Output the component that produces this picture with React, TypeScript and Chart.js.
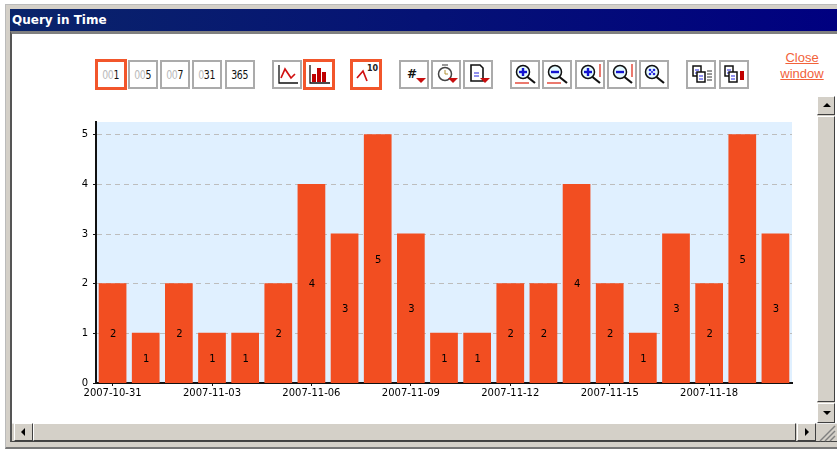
import React, { useEffect, useRef } from "react";
import { Chart, registerables } from "chart.js";

Chart.register(...registerables);

const dates = ["2007-10-31","2007-11-01","2007-11-02","2007-11-03","2007-11-04","2007-11-05","2007-11-06","2007-11-07","2007-11-08","2007-11-09","2007-11-10","2007-11-11","2007-11-12","2007-11-13","2007-11-14","2007-11-15","2007-11-16","2007-11-17","2007-11-18","2007-11-19","2007-11-20"];
const counts = [2,1,2,1,1,2,4,3,5,3,1,1,2,2,4,2,1,3,2,5,3];
const yTicks = [0,1,2,3,4,5];
const rangeButtons = [["00","1",95,true],["00","5",128,false],["00","7",160,false],["0","31",192,false],["","365",225,false]] as const;

const ORANGE = "#F24E21";
const FONT = "'DejaVu Sans', sans-serif";

const barLabels = {
  id: "barLabels",
  afterDatasetsDraw(chart: any) {
    const { ctx } = chart;
    const meta = chart.getDatasetMeta(0);
    ctx.save();
    ctx.fillStyle = "#000";
    ctx.font = `10px ${FONT}`;
    ctx.textAlign = "center";
    ctx.textBaseline = "middle";
    meta.data.forEach((bar: any, i: number) => {
      const base = chart.scales.y.getPixelForValue(0);
      ctx.fillText(String(counts[i]), bar.x + 0.5, (bar.y + base) / 2 + 1);
    });
    ctx.restore();
  },
};

const Btn = ({ x, active, children }: { x: number; active?: boolean; children?: React.ReactNode }) => (
  <div style={{
    position: "absolute", left: x, top: active ? 59 : 60, width: active ? 32 : 30, height: active ? 31 : 29,
    boxSizing: "border-box", border: active ? `3px solid #F2562B` : "2px solid #ababab", background: "#fff",
    display: "flex", alignItems: "center", justifyContent: "center",
  }}>{children}</div>
);

const Svg = ({ children }: { children: React.ReactNode }) => (
  <svg width="26" height="25" viewBox="0 0 26 25" style={{ display: "block", flex: "none" }}>{children}</svg>
);

const Mag = ({ sign, scale }: { sign: "+" | "-" | "x"; scale: "h" | "v" | "" }) => (
  <Svg>
    <circle cx="11" cy="10" r="6.5" fill="#e4f9ff" stroke="#111" strokeWidth="1.5" />
    <line x1="15.5" y1="15" x2="23" y2="21" stroke="#111" strokeWidth="2.2" />
    {sign === "x" ? (
      <g fill="#2222dd"><circle cx="9" cy="8" r="1.3"/><circle cx="13" cy="8" r="1.3"/><circle cx="11" cy="10" r="1.1"/><circle cx="9" cy="12" r="1.3"/><circle cx="13" cy="12" r="1.3"/></g>
    ) : (
      <g stroke="#1414d0" strokeWidth="2.4"><line x1="7" y1="10" x2="15" y2="10"/>{sign === "+" && <line x1="11" y1="6" x2="11" y2="14"/>}</g>
    )}
    {scale === "h" && <line x1="3" y1="21" x2="17" y2="21" stroke="#e03020" strokeWidth="1.3" />}
    {scale === "v" && <line x1="23" y1="2" x2="23" y2="15" stroke="#e03020" strokeWidth="1.3" />}
  </Svg>
);

const Doc = ({ x, y }: { x: number; y: number }) => (
  <g transform={`translate(${x} ${y})`}>
    <rect x="0" y="0" width="8" height="10" fill="#fff" stroke="#111" strokeWidth="1.5" />
    <line x1="2" y1="4" x2="6" y2="4" stroke="#2222dd" /><line x1="2" y1="7" x2="6" y2="7" stroke="#2222dd" />
  </g>
);

const Arrow = ({ x, y }: { x: number; y: number }) => <polygon points={`${x},${y} ${x + 10},${y} ${x + 5},${y + 5}`} fill="#c80e0e" />;

const ScrollBtn = ({ x, y, w, h, dir }: { x: number; y: number; w: number; h: number; dir: "u" | "d" | "l" | "r" }) => {
  const pts = { u: "5,8 13,8 9,4", d: "5,5 13,5 9,9", l: "8,4 8,12 4,8", r: "5,4 5,12 9,8" }[dir];
  return (
    <div style={{ position: "absolute", left: x, top: y, width: w, height: h, boxSizing: "border-box", background: "#D4D0C8", borderStyle: "solid", borderWidth: 1, borderColor: "#fff #404040 #404040 #fff" }}>
      <svg width={w - 2} height={h - 2} style={{ display: "block" }}><polygon points={pts} fill="#000" transform={dir === "u" || dir === "d" ? "translate(0 2)" : "translate(2 0)"} /></svg>
    </div>
  );
};

export default function App() {
  const ref = useRef<HTMLCanvasElement>(null);
  useEffect(() => {
    document.body.style.margin = "0";
    document.body.style.background = "#fff";
    const chart = new Chart(ref.current!, {
      type: "bar",
      data: { labels: dates, datasets: [{ data: counts, backgroundColor: ORANGE, barPercentage: 0.8, categoryPercentage: 1, inflateAmount: 0.6 }] },
      plugins: [
        barLabels,
        {
          id: "plotBg",
          beforeDraw(c: any) {
            const { ctx, chartArea: a } = c;
            ctx.save();
            ctx.fillStyle = "#E0F0FF";
            ctx.fillRect(a.left, a.top, a.right - a.left, a.bottom - a.top);
            ctx.restore();
          },
        },
      ],
      options: {
        animation: false,
        responsive: false,
        events: [],
        layout: { autoPadding: false, padding: { left: 0, right: 8, top: 7, bottom: 0 } },
        plugins: { legend: { display: false }, tooltip: { enabled: false }, title: { display: false } },
        scales: {
          x: {
            afterFit: (s: any) => { s.height = 22; s.paddingLeft = 0; s.paddingRight = 0; },
            grid: { display: true, offset: false, drawOnChartArea: false, drawTicks: true, tickLength: 3, tickColor: "#111", color: "#111" },
            border: { color: "#111", width: 2 },
            ticks: { autoSkip: true, maxTicksLimit: 7, maxRotation: 0, minRotation: 0, color: "#000", padding: 1, font: { size: 10, family: FONT } },
          },
          y: {
            min: 0,
            max: 5.26,
            afterFit: (s: any) => { s.width = 36; s.paddingTop = 0; s.paddingBottom = 0; },
            afterBuildTicks: (s: any) => { s.ticks = yTicks.map((value) => ({ value })); },
            grid: { color: "#bdbdbd", drawTicks: true, tickLength: 3, tickColor: "#111", lineWidth: 1 },
            border: { color: "#111", width: 2, dash: [5, 4] },
            ticks: { color: "#000", padding: 5, font: { size: 10, family: FONT }, callback: (v: any) => String(v) },
          },
        },
      },
    } as any);
    return () => chart.destroy();
  }, []);

  return (
    <div style={{ position: "relative", width: 837, height: 449, overflow: "hidden", background: "#fff", fontFamily: FONT }}>
      {/* window frame */}
      <div style={{ position: "absolute", left: 5, top: 4, width: 832, height: 445, boxSizing: "border-box", background: "#D4D0C8", borderTop: "1px solid #bbb", borderLeft: "1px solid #bbb", borderBottom: "2px solid #777" }} />
      <div style={{ position: "absolute", left: 10, top: 9, width: 827, height: 22, background: "linear-gradient(90deg,#0A246A 0%,#000080 100%)", color: "#fff", fontWeight: 700, fontSize: 12, lineHeight: "23px", paddingLeft: 2, boxSizing: "border-box", whiteSpace: "nowrap" }}>Query in Time</div>
      <div style={{ position: "absolute", left: 10, top: 31, width: 827, height: 411, boxSizing: "border-box", background: "#fff", borderTop: "3px solid #808080", borderLeft: "2px solid #555", borderBottom: "1px solid #444" }} />

      {rangeButtons.map(([dim, strong, x, active]) => (
        <Btn key={x} x={x} active={active}>
          <span style={{ fontFamily: "'DejaVu Sans Condensed','DejaVu Sans',sans-serif", fontSize: 13, display: "inline-block", transform: "scaleX(0.8)", whiteSpace: "nowrap", letterSpacing: -0.3 }}>
            <span style={{ color: "#b9b9b9" }}>{dim}</span><span style={{ color: "#111" }}>{strong}</span>
          </span>
        </Btn>
      ))}

      <Btn x={272}><Svg><path d="M5 3V21H24" fill="none" stroke="#111" strokeWidth="1.3"/><path d="M7 16L11 7L17 16L21 12" fill="none" stroke="#d01010" strokeWidth="1.7"/></Svg></Btn>
      <Btn x={303} active><Svg><path d="M4 3V21H24" fill="none" stroke="#111" strokeWidth="1.3"/><g fill="#c00000"><rect x="6" y="12" width="4" height="8"/><rect x="11" y="6" width="4" height="14"/><rect x="16" y="10" width="4" height="10"/></g></Svg></Btn>
      <Btn x={350} active><Svg><path d="M4 16L10 9L14 19" fill="none" stroke="#d01010" strokeWidth="1.7"/><text x="14" y="9" fontSize="8" fontWeight="700" fill="#222" fontFamily={FONT}>10</text></Svg></Btn>

      <Btn x={399}><Svg><text x="6" y="16" fontSize="12" fontWeight="700" fill="#111" fontFamily={FONT}>#</text><Arrow x={15} y={16}/></Svg></Btn>
      <Btn x={431}><Svg><circle cx="12" cy="12" r="6.5" fill="#fff" stroke="#444" strokeWidth="1.5"/><path d="M12 8V12H15" fill="none" stroke="#b09030"/><line x1="9" y1="3" x2="15" y2="3" stroke="#777" strokeWidth="1.5"/><Arrow x={15} y={16}/></Svg></Btn>
      <Btn x={463}><Svg><path d="M6 3H15L18 6V19H6Z" fill="#fff" stroke="#111" strokeWidth="1.6"/><line x1="9" y1="11" x2="14" y2="11" stroke="#2222dd"/><line x1="9" y1="14" x2="14" y2="14" stroke="#2222dd"/><Arrow x={15} y={16}/></Svg></Btn>

      <Btn x={510}><Mag sign="+" scale="h" /></Btn>
      <Btn x={542}><Mag sign="-" scale="h" /></Btn>
      <Btn x={575}><Mag sign="+" scale="v" /></Btn>
      <Btn x={607}><Mag sign="-" scale="v" /></Btn>
      <Btn x={639}><Mag sign="x" scale="" /></Btn>

      <Btn x={686}><Svg><Doc x={5} y={4}/><Doc x={9} y={10}/><g stroke="#333"><line x1="19" y1="9" x2="24" y2="9"/><line x1="19" y1="12" x2="24" y2="12"/><line x1="19" y1="15" x2="24" y2="15"/><line x1="19" y1="18" x2="24" y2="18"/></g></Svg></Btn>
      <Btn x={719}><Svg><Doc x={4} y={4}/><Doc x={8} y={10}/><rect x="19" y="9" width="4" height="9" fill="#c00000"/></Svg></Btn>

      <div style={{ position: "absolute", left: 772, top: 50, width: 60, textAlign: "center", color: "#F2623A", fontFamily: "'Liberation Sans',sans-serif", fontSize: 13, lineHeight: "16px", textDecoration: "underline" }}>Close<br/>window</div>

      <canvas ref={ref} width={740} height={290} style={{ position: "absolute", left: 60, top: 115, width: 740, height: 290 }} />

      {/* scrollbars */}
      <div style={{ position: "absolute", left: 817, top: 96, width: 18, height: 327, background: "#D4D0C8" }} />
      <ScrollBtn x={817} y={96} w={18} h={19} dir="u" />
      <div style={{ position: "absolute", left: 817, top: 116, width: 18, height: 286, boxSizing: "border-box", background: "#D4D0C8", borderStyle: "solid", borderWidth: 1, borderColor: "#fff #404040 #404040 #fff" }} />
      <ScrollBtn x={817} y={403} w={18} h={20} dir="d" />
      <div style={{ position: "absolute", left: 12, top: 423, width: 825, height: 18, background: "#D4D0C8", borderTop: "1px solid #eee", boxSizing: "border-box" }} />
      <ScrollBtn x={14} y={423} w={19} h={18} dir="l" />
      <div style={{ position: "absolute", left: 33, top: 423, width: 763, height: 18, boxSizing: "border-box", background: "#D4D0C8", borderStyle: "solid", borderWidth: 1, borderColor: "#fff #404040 #404040 #fff" }} />
      <ScrollBtn x={797} y={423} w={19} h={18} dir="r" />
      <svg width="18" height="18" style={{ position: "absolute", left: 818, top: 424 }}>
        <g stroke="#808080" strokeWidth="1.4"><line x1="17" y1="2" x2="2" y2="17"/><line x1="17" y1="7" x2="7" y2="17"/><line x1="17" y1="12" x2="12" y2="17"/></g>
      </svg>
    </div>
  );
}
